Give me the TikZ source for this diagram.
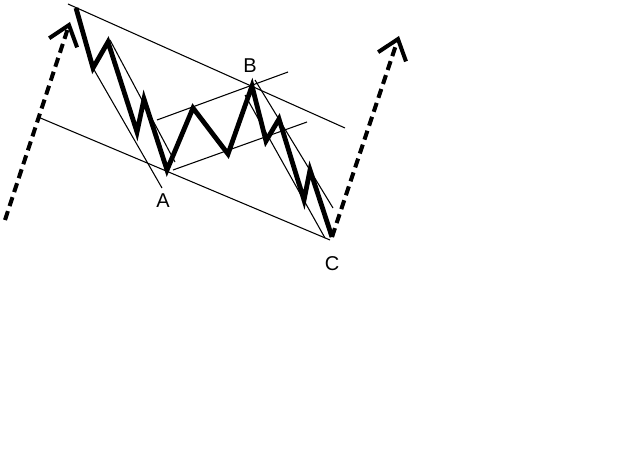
\documentclass[tikz,border=0pt]{standalone}
\usepackage{fontspec}
\setmainfont{Liberation Sans}
\usepackage{tikz}
\usetikzlibrary{arrows.meta}

\begin{document}
\begin{tikzpicture}[x=0.75pt,y=-0.75pt,
    wave/.style={line width=3.6pt},
    trend/.style={line width=0.8pt},
    dasharrow/.style={line width=3pt,dash pattern=on 7pt off 4pt,
        -{Straight Barb[length=14pt,width=22pt,line width=3pt]}},
    lbl/.style={font=\fontsize{15}{18}\selectfont,inner sep=0pt}]
\useasboundingbox (0,0) rectangle (634,452);
\coordinate (w0) at (76,8);
\coordinate (w1) at (93,68);
\coordinate (w2) at (108,42);
\coordinate (w3) at (137,132);
\coordinate (w4) at (144,99);
\coordinate (A) at (167,170);
\coordinate (w6) at (193,108);
\coordinate (w7) at (228,154);
\coordinate (B) at (252,86);
\coordinate (w9) at (266,141);
\coordinate (w10) at (279,119);
\coordinate (w11) at (304,200);
\coordinate (w12) at (310,170);
\coordinate (C) at (332,237);
\coordinate (start) at (5,220);
\coordinate (top1) at (70,22);
\coordinate (top2) at (399,36);
\node[lbl] (labA) at (163,201) {A};
\node[lbl] (labB) at (250,66) {B};
\node[lbl] (labC) at (332,264) {C};
% channel lines
\draw[trend] (68,4) -- (345,128);
\draw[trend] (38,117) -- (330,240);
\draw[trend] (157,120) -- (288,72);
\draw[trend] (173,170) -- (307,122);
% trend lines of the legs
\draw[trend] (110,40) -- (175,162);
\draw[trend] (93,68) -- (162,188);
\draw[trend] (255,80) -- (333,208);
\draw[trend] (245,95) -- (325,238);
% the wave
\draw[wave] (w0) -- (w1) -- (w2) -- (w3) -- (w4) -- (A) -- (w6) -- (w7)
    -- (B) -- (w9) -- (w10) -- (w11) -- (w12) -- (C);
\draw[dasharrow] (start) -- (top1);
\draw[dasharrow] (C) -- (top2);
\end{tikzpicture}
\end{document}
